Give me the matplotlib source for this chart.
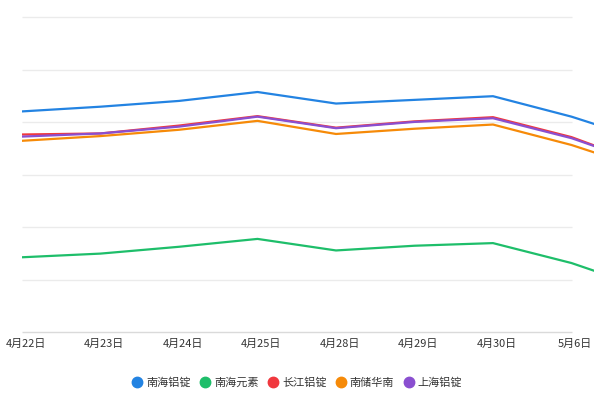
import matplotlib
matplotlib.use("Agg")
import matplotlib.pyplot as plt
import matplotlib.transforms as mtransforms
from matplotlib.lines import Line2D

plt.rcParams['font.family'] = ['Noto Sans CJK SC', 'DejaVu Sans']

dates = ["4月22日", "4月23日", "4月24日", "4月25日", "4月28日", "4月29日", "4月30日", "5月6日", ""]
series_names = ["南海铝锭", "南海元素", "长江铝锭", "南储华南", "上海铝锭"]
colors = ["#2383E2", "#1EBE6A", "#F0383E", "#F68A08", "#8A4FD0"]

blue   = [42.1, 43.0, 44.1, 45.8, 43.6, 44.3, 45.0, 41.1, 36.3]
green  = [14.3, 15.0, 16.3, 17.8, 15.6, 16.5, 17.0, 13.2, 8.1]
red    = [37.7, 37.9, 39.4, 41.2, 39.0, 40.2, 41.0, 37.2, 31.7]
orange = [36.5, 37.4, 38.6, 40.3, 37.8, 38.8, 39.6, 35.7, 30.8]
purple = [37.3, 37.9, 39.2, 41.1, 38.9, 40.1, 40.8, 37.0, 31.8]
values = [blue, green, red, orange, purple]

grid_vals = [0, 10, 20, 30, 40, 50, 60]

W, H = 594, 415
fig = plt.figure(figsize=(W / 100, H / 100), dpi=100)
left_px, bottom_px, top_px = 22, 332.3, 17.5
step_px = 78.5
n = len(dates)
right_px = left_px + step_px * (n - 1)
ax = fig.add_axes([left_px / W, (H - bottom_px) / H,
                   (right_px - left_px) / W, (bottom_px - top_px) / H])
x = list(range(n))
ax.set_xlim(0, n - 1)
ax.set_ylim(grid_vals[0], grid_vals[-1])

# grid lines up to the last labelled point
last = 7
ax.hlines(grid_vals[1:], 0, last, colors="#ebebeb", linewidth=1.0, zorder=1,
          clip_on=False)
ax.hlines([grid_vals[0]], 0, last, colors="#dadada", linewidth=1.0, zorder=1,
          clip_on=False)

for name, vals, c in zip(series_names, values, colors):
    ax.plot(x, vals, color=c, linewidth=1.6, label=name, zorder=3,
            solid_joinstyle="round")

for s in ax.spines.values():
    s.set_visible(False)
ax.set_yticks([])
ax.set_xticks(x[:last + 1])
ax.set_xticklabels(dates[:last + 1], fontsize=7.9, color="#333333")
ax.tick_params(axis="x", length=0, pad=5)
offset = mtransforms.ScaledTranslation(3.5 / 100, 0, fig.dpi_scale_trans)
for lbl in ax.get_xticklabels():
    lbl.set_transform(lbl.get_transform() + offset)

handles = [Line2D([], [], marker="o", linestyle="none", markersize=7.5,
                  markerfacecolor=c, markeredgecolor=c) for c in colors]
fig.legend(handles, series_names, loc="center", bbox_to_anchor=(0.5, 1 - 382.5 / H),
           ncol=5, frameon=False, fontsize=8, handlelength=1.0,
           handletextpad=0.3, columnspacing=0.8, labelcolor="#333333")

fig.savefig("out.png", dpi=100)
